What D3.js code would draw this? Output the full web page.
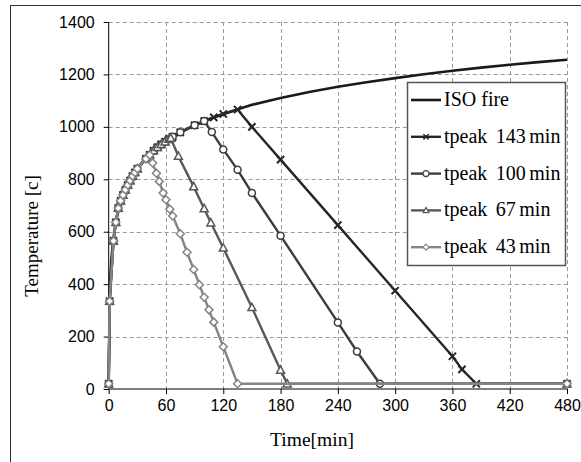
<!DOCTYPE html>
<html>
<head>
<meta charset="utf-8">
<script src="https://cdn.jsdelivr.net/npm/d3@7"></script>
<style>
    body { margin: 0; background: #fff; }
    svg { display: block; }
</style>
</head>
<body>
<div id="chart"></div>
<script>
// ISO fire curve
const isoTime = [0, 1, 2, 3, 5, 7.5, 10, 15, 20, 30, 40, 50, 60, 75, 90, 105, 120, 150, 180, 210, 240, 270, 300, 330, 360, 390, 420, 450, 480];
const isoTemp = [20, 349, 445, 502, 576, 636, 678, 739, 781, 842, 885, 918, 945, 979, 1006, 1029, 1049, 1084, 1110, 1133, 1153, 1170, 1186, 1201, 1214, 1226, 1237, 1247, 1256];

// heating phase points shared by the parametric curves
const heatTime = [0, 1, 5, 7.5, 10, 12.5, 15, 17.5, 20, 22.5, 25, 27.5, 30, 39, 43, 47, 51, 55, 59, 63, 67, 75, 90, 100, 110, 120];
const heatTemp = [20, 335, 565, 636, 690, 718, 740, 760, 778, 795, 812, 826, 840, 878, 893, 909, 922, 933, 943, 953, 962, 979, 1006, 1022, 1036, 1049];

// cooling phase of each curve (starts at its peak)
const cool143Time = [135, 150, 180, 240, 300, 360, 370, 385, 480];
const cool143Temp = [1066, 1000, 875, 625, 375, 125, 75, 20, 20];
const cool100Time = [100, 108, 120, 135, 150, 180, 240, 260, 284, 480];
const cool100Temp = [1022, 980, 914, 836, 748, 585, 254, 143, 20, 20];
const cool67Time = [65, 73, 89, 100, 107, 120, 150, 180, 187, 480];
const cool67Temp = [957, 888, 772, 688, 634, 538, 311, 72, 20, 20];
const cool43Time = [43, 46, 50, 53, 57, 60, 64, 67, 75, 82, 89, 95, 100, 105, 110, 120, 135, 480];
const cool43Temp = [893, 862, 823, 792, 748, 722, 686, 660, 592, 522, 456, 398, 350, 302, 255, 161, 20, 20];

const xTicks = [0, 60, 120, 180, 240, 300, 360, 420, 480];
const yTicks = [0, 200, 400, 600, 800, 1000, 1200, 1400];

const width = 581;
const height = 462;
const plot = { left: 108.7, right: 567, top: 22, bottom: 389 };
const serif = '"Liberation Serif", "Times New Roman", serif';

function zipPoints(times, temps) {
    return times.map((t, i) => ({ t: t, v: temps[i] }));
}

function buildSeries(coolTime, coolTemp) {
    const peak = coolTime[0];
    const heat = zipPoints(heatTime, heatTemp).filter(d => d.t < peak);
    return heat.concat(zipPoints(coolTime, coolTemp));
}

const series = [
    { label: '143', color: '#262626', marker: 'x', points: buildSeries(cool143Time, cool143Temp) },
    { label: '100', color: '#3d3d3d', marker: 'circle', points: buildSeries(cool100Time, cool100Temp) },
    { label: '67', color: '#585858', marker: 'triangle', points: buildSeries(cool67Time, cool67Temp) },
    { label: '43', color: '#848484', marker: 'diamond', points: buildSeries(cool43Time, cool43Temp) }
];

const x = d3.scaleLinear().domain([0, 480]).range([plot.left, plot.right]);
const y = d3.scaleLinear().domain([0, 1400]).range([plot.bottom, plot.top]);

const svg = d3.select('#chart')
    .append('svg')
    .attr('width', width)
    .attr('height', height);

// outer chart frame (runs off the right and bottom edge)
svg.append('rect')
    .attr('x', 10.5)
    .attr('y', 5.5)
    .attr('width', 620)
    .attr('height', 500)
    .attr('fill', 'none')
    .attr('stroke', '#333')
    .attr('stroke-width', 1);

// grid
const grid = svg.append('g')
    .attr('stroke', '#999')
    .attr('stroke-width', 1)
    .attr('stroke-dasharray', '4,3');

grid.selectAll('.hgrid')
    .data(yTicks.filter(d => d > 0))
    .join('line')
    .attr('x1', plot.left)
    .attr('x2', plot.right)
    .attr('y1', d => Math.round(y(d)) + 0.5)
    .attr('y2', d => Math.round(y(d)) + 0.5);

grid.selectAll('.vgrid')
    .data(xTicks.filter(d => d > 0))
    .join('line')
    .attr('x1', d => Math.round(x(d)) + 0.5)
    .attr('x2', d => Math.round(x(d)) + 0.5)
    .attr('y1', plot.top)
    .attr('y2', plot.bottom);

// axes
const xAxis = d3.axisBottom(x)
    .tickValues(xTicks)
    .tickFormat(d3.format('d'))
    .tickSize(5)
    .tickPadding(6);

const yAxis = d3.axisLeft(y)
    .tickValues(yTicks)
    .tickFormat(d3.format('d'))
    .tickSize(5)
    .tickPadding(9);

const gx = svg.append('g')
    .attr('transform', `translate(0,${plot.bottom})`)
    .call(xAxis);

const gy = svg.append('g')
    .attr('transform', `translate(${plot.left},0)`)
    .call(yAxis);

[gx, gy].forEach(g => {
    g.select('.domain').attr('stroke', '#000');
    g.selectAll('.tick line').attr('stroke', '#000');
    g.selectAll('.tick text')
        .attr('fill', '#000')
        .style('font-family', '"Liberation Sans", Arial, sans-serif')
        .style('font-size', '16px');
});
gx.select('.domain').attr('d', `M${plot.left},0H${plot.right}`);
gy.select('.domain').attr('d', `M0,${plot.bottom}V${plot.top}`);

// axis titles
svg.append('text')
    .attr('x', 312)
    .attr('y', 446)
    .attr('text-anchor', 'middle')
    .style('font-family', serif)
    .style('font-size', '19.5px')
    .text('Time[min]');

svg.append('text')
    .attr('transform', 'translate(38,236) rotate(-90)')
    .attr('text-anchor', 'middle')
    .style('font-family', serif)
    .style('font-size', '19px')
    .text('Temperature [c]');

// markers
function markerPath(type, s) {
    if (type === 'circle') {
        return `M${-s},0A${s},${s} 0 1,0 ${s},0A${s},${s} 0 1,0 ${-s},0Z`;
    }
    if (type === 'diamond') {
        return `M0,${-s}L${s},0L0,${s}L${-s},0Z`;
    }
    if (type === 'triangle') {
        return `M0,${-s}L${s * 0.95},${s * 0.75}L${-s * 0.95},${s * 0.75}Z`;
    }
    return `M${-s},${-s}L${s},${s}M${s},${-s}L${-s},${s}`;
}

const line = d3.line()
    .x(d => x(d.t))
    .y(d => y(d.v));

svg.append('path')
    .datum(zipPoints(isoTime, isoTemp))
    .attr('d', line)
    .attr('fill', 'none')
    .attr('stroke', '#1a1a1a')
    .attr('stroke-width', 2.6);

const markerSize = { circle: 3.5, diamond: 4, triangle: 4.2, x: 3.6 };

series.forEach(s => {
    const g = svg.append('g');
    g.append('path')
        .datum(s.points)
        .attr('d', line)
        .attr('fill', 'none')
        .attr('stroke', s.color)
        .attr('stroke-width', 2.4);

    g.selectAll('.marker')
        .data(s.points)
        .join('path')
        .attr('transform', d => `translate(${x(d.t)},${y(d.v)})`)
        .attr('d', markerPath(s.marker, markerSize[s.marker]))
        .attr('fill', s.marker === 'x' ? 'none' : '#fff')
        .attr('stroke', s.color)
        .attr('stroke-width', s.marker === 'x' ? 2 : 1.5);
});

// legend
const legend = svg.append('g');
const legendBox = { x: 407.5, y: 82.5, w: 158, h: 183 };

legend.append('rect')
    .attr('x', legendBox.x)
    .attr('y', legendBox.y)
    .attr('width', legendBox.w)
    .attr('height', legendBox.h)
    .attr('fill', '#fff')
    .attr('stroke', '#555')
    .attr('stroke-width', 1.5);

const legendItems = [{ label: null, color: '#1a1a1a', marker: null }].concat(series);

legendItems.forEach((d, i) => {
    const cy = 100 + i * 36.8;
    legend.append('line')
        .attr('x1', 411)
        .attr('x2', 441)
        .attr('y1', cy)
        .attr('y2', cy)
        .attr('stroke', d.color)
        .attr('stroke-width', d.marker ? 2.4 : 2.6);
    if (d.marker) {
        legend.append('path')
            .attr('transform', `translate(426,${cy})`)
            .attr('d', markerPath(d.marker, d.marker === 'x' ? 2.6 : 3))
            .attr('fill', d.marker === 'x' ? 'none' : '#fff')
            .attr('stroke', d.color)
            .attr('stroke-width', d.marker === 'x' ? 1.5 : 1.2);
    }
    const text = legend.append('text')
        .attr('x', 444)
        .attr('y', cy + 6)
        .style('font-family', serif)
        .style('font-size', '20px');
    if (d.label === null) {
        text.text('ISO fire');
    } else {
        text.append('tspan').text('tpeak');
        text.append('tspan').attr('dx', 8.5).text(d.label);
        text.append('tspan').attr('dx', 3.5).text('min');
    }
});
</script>
</body>
</html>
